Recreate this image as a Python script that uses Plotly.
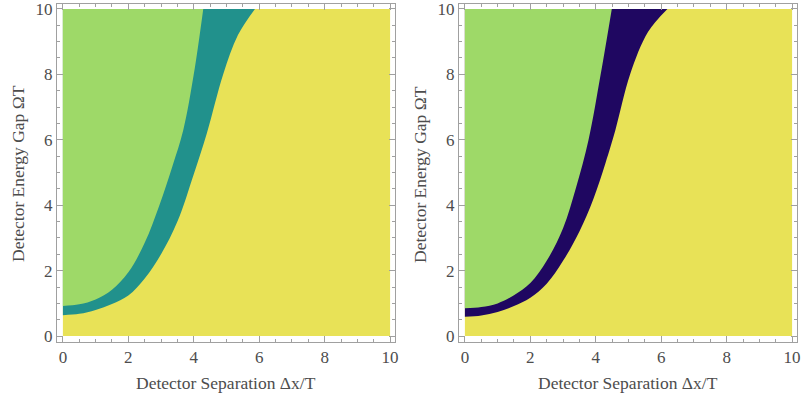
import plotly.graph_objects as go

# Boundary curves (x = detector separation, y = energy gap)
left_upper_x = [0, 0.5, 1.0, 1.5, 2.0, 2.5, 2.95, 3.35, 3.68, 4.0, 4.29]
left_upper_y = [0.92, 0.97, 1.12, 1.42, 1.95, 2.85, 4.0, 5.2, 6.3, 8.0, 10.0]
left_lower_x = [0, 0.5, 1.0, 1.5, 2.0, 2.5, 3.0, 3.5, 4.0, 4.4, 4.9, 5.35, 5.87]
left_lower_y = [0.64, 0.68, 0.8, 0.98, 1.24, 1.76, 2.5, 3.5, 4.95, 6.2, 8.0, 9.2, 10.0]

right_upper_x = [0, 0.5, 1.0, 1.5, 2.0, 2.5, 3.0, 3.4, 3.78, 4.15, 4.49]
right_upper_y = [0.85, 0.89, 1.0, 1.25, 1.62, 2.3, 3.3, 4.55, 6.0, 8.0, 10.0]
right_lower_x = [0, 0.5, 1.0, 1.5, 2.0, 2.5, 3.0, 3.5, 3.93, 4.3, 4.6, 5.05, 5.6, 6.19]
right_lower_y = [0.59, 0.63, 0.74, 0.92, 1.17, 1.6, 2.3, 3.2, 4.2, 5.3, 6.3, 8.0, 9.3, 10.0]

x_min, x_max = 0, 10
y_min, y_max = 0, 10
tick_vals = [0, 2, 4, 6, 8, 10]

GREEN = "#9ED968"
YELLOW = "#E8E257"
TEAL = "#21918C"
DARK = "#1F0761"

fig = go.Figure()

def add_panel(xa, ya, ux, uy, lx, ly, band_color):
    # background region (yellow)
    fig.add_trace(go.Scatter(x=[x_min, x_max, x_max, x_min], y=[y_min, y_min, y_max, y_max],
                             fill="toself", fillcolor=YELLOW, mode="none",
                             xaxis=xa, yaxis=ya, showlegend=False, hoverinfo="skip"))
    # band region (left of lower curve)
    fig.add_trace(go.Scatter(x=lx, y=ly, fill="tozerox", fillcolor=band_color,
                             mode="lines", line=dict(width=0, shape="spline", smoothing=1.0),
                             xaxis=xa, yaxis=ya, showlegend=False, hoverinfo="skip"))
    # upper-left region (green, left of upper curve)
    fig.add_trace(go.Scatter(x=ux, y=uy, fill="tozerox", fillcolor=GREEN,
                             mode="lines", line=dict(width=0, shape="spline", smoothing=1.0),
                             xaxis=xa, yaxis=ya, showlegend=False, hoverinfo="skip"))

add_panel("x", "y", left_upper_x, left_upper_y, left_lower_x, left_lower_y, TEAL)
add_panel("x2", "y2", right_upper_x, right_upper_y, right_lower_x, right_lower_y, DARK)

W, H = 801, 399
font = dict(family="Liberation Serif, Times New Roman, serif", size=17.5, color="#4D4D4D")
tick_font = dict(family="Liberation Serif, Times New Roman, serif", size=17, color="#4D4D4D")
frame = "#A0A0A0"

def axis_common():
    return dict(range=[-0.18, 10.15], tickvals=tick_vals, ticks="inside", ticklen=6,
                tickcolor=frame, showline=True, linecolor=frame, linewidth=1, mirror="allticks",
                showgrid=False, zeroline=False, tickfont=tick_font, automargin=False,
                ticklabeloverflow="allow",
                minor=dict(ticks="inside", dtick=0.5, ticklen=3, tickcolor=frame, showgrid=False))

y_dom = [1 - 342 / H, 1 - 4 / H]
fig.update_layout(
    width=W, height=H, margin=dict(l=0, r=0, t=0, b=0, autoexpand=False),
    paper_bgcolor="white", plot_bgcolor="white", font=font,
    xaxis=dict(domain=[57 / W, 395 / W], anchor="y", **axis_common()),
    yaxis=dict(domain=y_dom, anchor="x", **axis_common()),
    xaxis2=dict(domain=[459 / W, 797 / W], anchor="y2", **axis_common()),
    yaxis2=dict(domain=y_dom, anchor="x2", **axis_common()),
)

ann = []
for cx in [(57 + 395) / 2, (459 + 797) / 2]:
    ann.append(dict(text="Detector Separation \u0394x/T", x=cx / W, y=1 - 383 / H, xref="paper", yref="paper",
                    showarrow=False, font=font, xanchor="center", yanchor="middle"))
for cx in [18, 420]:
    ann.append(dict(text="Detector Energy Gap \u03a9T", x=cx / W, y=1 - 174 / H, xref="paper", yref="paper",
                    showarrow=False, font=font, textangle=-90, xanchor="center", yanchor="middle"))
fig.update_layout(annotations=ann)

fig.write_html("out.html", config={"displayModeBar": False},
               post_script="document.body.style.margin='0px';document.body.style.overflow='hidden';")
